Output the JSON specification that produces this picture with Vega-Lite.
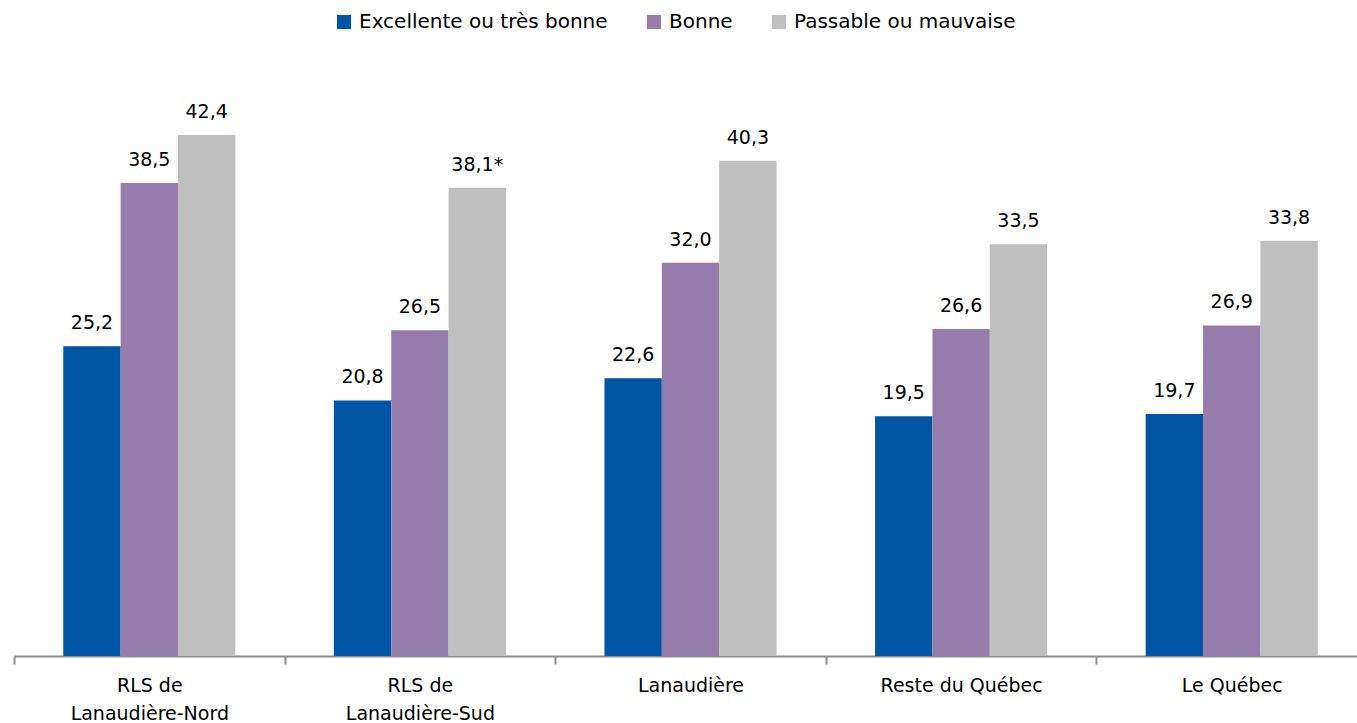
{
  "$schema": "https://vega.github.io/schema/vega-lite/v6.json",
  "width": 1353,
  "height": 553,
  "autosize": "none",
  "padding": {"left": 14, "top": 103, "right": 0, "bottom": 67},
  "background": "white",
  "config": {
    "view": {"stroke": null},
    "font": "DejaVu Sans"
  },
  "data": {
    "values": [
      {"region": "RLS de|Lanaudière-Nord", "serie": "Excellente ou très bonne", "valeur": 25.2, "etiquette": "25,2"},
      {"region": "RLS de|Lanaudière-Nord", "serie": "Bonne", "valeur": 38.5, "etiquette": "38,5"},
      {"region": "RLS de|Lanaudière-Nord", "serie": "Passable ou mauvaise", "valeur": 42.4, "etiquette": "42,4"},
      {"region": "RLS de|Lanaudière-Sud", "serie": "Excellente ou très bonne", "valeur": 20.8, "etiquette": "20,8"},
      {"region": "RLS de|Lanaudière-Sud", "serie": "Bonne", "valeur": 26.5, "etiquette": "26,5"},
      {"region": "RLS de|Lanaudière-Sud", "serie": "Passable ou mauvaise", "valeur": 38.1, "etiquette": "38,1*"},
      {"region": "Lanaudière", "serie": "Excellente ou très bonne", "valeur": 22.6, "etiquette": "22,6"},
      {"region": "Lanaudière", "serie": "Bonne", "valeur": 32.0, "etiquette": "32,0"},
      {"region": "Lanaudière", "serie": "Passable ou mauvaise", "valeur": 40.3, "etiquette": "40,3"},
      {"region": "Reste du Québec", "serie": "Excellente ou très bonne", "valeur": 19.5, "etiquette": "19,5"},
      {"region": "Reste du Québec", "serie": "Bonne", "valeur": 26.6, "etiquette": "26,6"},
      {"region": "Reste du Québec", "serie": "Passable ou mauvaise", "valeur": 33.5, "etiquette": "33,5"},
      {"region": "Le Québec", "serie": "Excellente ou très bonne", "valeur": 19.7, "etiquette": "19,7"},
      {"region": "Le Québec", "serie": "Bonne", "valeur": 26.9, "etiquette": "26,9"},
      {"region": "Le Québec", "serie": "Passable ou mauvaise", "valeur": 33.8, "etiquette": "33,8"}
    ]
  },
  "encoding": {
    "x": {
      "field": "region",
      "type": "nominal",
      "sort": null,
      "scale": {"paddingInner": 0, "paddingOuter": 0},
      "axis": {
        "title": null,
        "labelAngle": 0,
        "labelExpr": "split(datum.label, '|')",
        "labelFontSize": 19,
        "labelColor": "#000000",
        "labelPadding": 12,
        "labelLineHeight": 28,
        "labelBaseline": "top",
        "labelLimit": 400,
        "domainColor": "#8c8c8c",
        "domainWidth": 2,
        "tickColor": "#8c8c8c",
        "tickWidth": 2,
        "tickSize": 8,
        "tickBand": "extent",
        "grid": false
      }
    },
    "xOffset": {
      "field": "serie",
      "type": "nominal",
      "sort": ["Excellente ou très bonne", "Bonne", "Passable ou mauvaise"],
      "scale": {"paddingInner": 0, "paddingOuter": 0.859}
    },
    "y": {
      "field": "valeur",
      "type": "quantitative",
      "scale": {"domain": [0, 45], "nice": false},
      "axis": null
    }
  },
  "layer": [
    {
      "mark": {"type": "bar"},
      "encoding": {
        "color": {
          "field": "serie",
          "type": "nominal",
          "sort": ["Excellente ou très bonne", "Bonne", "Passable ou mauvaise"],
          "scale": {
            "domain": ["Excellente ou très bonne", "Bonne", "Passable ou mauvaise"],
            "range": ["#0055a5", "#967cad", "#bfbfbf"]
          },
          "legend": {
            "title": null,
            "orient": "none",
            "legendX": 320,
            "legendY": -91,
            "direction": "horizontal",
            "symbolType": "square",
            "symbolSize": 200,
            "symbolStrokeWidth": 0,
            "labelFontSize": 20,
            "labelColor": "#000000",
            "labelLimit": 400,
            "columnPadding": 36,
            "labelOffset": 5
          }
        }
      }
    },
    {
      "mark": {"type": "text", "baseline": "bottom", "dy": -13, "fontSize": 19, "color": "#000000"},
      "encoding": {
        "text": {"field": "etiquette"}
      }
    }
  ]
}
